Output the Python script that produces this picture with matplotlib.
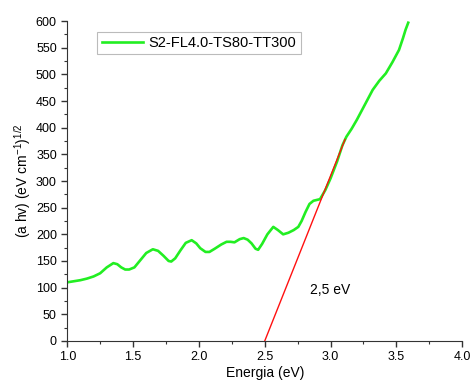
import numpy as np
import matplotlib.pyplot as plt
from matplotlib.ticker import MultipleLocator

plt.rcParams['font.family'] = ['Liberation Sans', 'DejaVu Sans']
plt.rcParams['mathtext.fontset'] = 'custom'
plt.rcParams['mathtext.rm'] = 'Liberation Sans'
plt.rcParams['mathtext.it'] = 'Liberation Sans'

# curva de Tauc
energia = [1.00, 1.05, 1.10, 1.15, 1.20, 1.25, 1.30, 1.35, 1.38, 1.41, 1.44, 1.47,
           1.51, 1.55, 1.60, 1.65, 1.69, 1.73, 1.77, 1.79, 1.82, 1.86, 1.90, 1.945,
           1.98, 2.01, 2.05, 2.08, 2.12, 2.17, 2.21, 2.24, 2.27, 2.31, 2.34, 2.37,
           2.40, 2.43, 2.45, 2.48, 2.52, 2.565, 2.60, 2.64, 2.68, 2.72, 2.755, 2.78,
           2.81, 2.84, 2.87, 2.92, 2.96, 3.00, 3.05, 3.09, 3.12, 3.16, 3.20, 3.26,
           3.32, 3.37, 3.42, 3.47, 3.52, 3.55, 3.57, 3.59]
ahv = [110, 112, 114, 117, 121, 127, 138, 146, 144, 138, 134, 134,
       138, 150, 165, 172, 169, 160, 150, 149, 155, 170, 184, 189,
       183, 174, 167, 167, 173, 181, 186, 186, 185, 191, 193, 190,
       183, 173, 171, 182, 200, 214, 208, 200, 203, 208, 214, 225,
       242, 257, 263, 266, 283, 305, 337, 367, 383, 398, 415, 443,
       471, 488, 502, 523, 546, 568, 584, 597]

# recta de ajuste
recta_x = [2.50, 3.11]
recta_y = [0, 378]

fig = plt.figure(figsize=(4.77, 3.91), dpi=100)
ax = fig.add_axes([0.141, 0.128, 0.828, 0.818])

ax.plot(energia, ahv, color='#22ee22', lw=1.9, label='S2-FL4.0-TS80-TT300', zorder=2,
        solid_joinstyle='round')
ax.plot(recta_x, recta_y, color='#ff1010', lw=1.0, zorder=3)

ax.text(3.0, 95, '2,5 eV', fontsize=10, ha='center', va='center')

ax.set_xlim(1.0, 4.0)
ax.set_ylim(0, 600)
ax.xaxis.set_major_locator(MultipleLocator(0.5))
ax.xaxis.set_minor_locator(MultipleLocator(0.25))
ax.yaxis.set_major_locator(MultipleLocator(50))
ax.yaxis.set_minor_locator(MultipleLocator(25))
ax.xaxis.set_major_formatter(plt.FormatStrFormatter('%.1f'))
ax.tick_params(which='major', direction='out', length=4, width=1, labelsize=9, color='#333333')
ax.tick_params(which='minor', direction='out', length=2, width=0.8, color='#333333')
for s in ['top', 'right']:
    ax.spines[s].set_visible(False)
for s in ['left', 'bottom']:
    ax.spines[s].set_color('#333333')

ax.set_xlabel('Energia (eV)', fontsize=10, labelpad=2)
ax.set_ylabel('(a hv) (eV cm$^{-1}$)$^{1/2}$', fontsize=10, labelpad=2)

leg = ax.legend(loc='upper left', bbox_to_anchor=(0.058, 0.99), fontsize=10.5,
                fancybox=False, edgecolor='#aaaaaa', handlelength=2.8,
                borderpad=0.3, handletextpad=0.4)
leg.get_frame().set_linewidth(0.8)

fig.savefig('out.png', dpi=100)
